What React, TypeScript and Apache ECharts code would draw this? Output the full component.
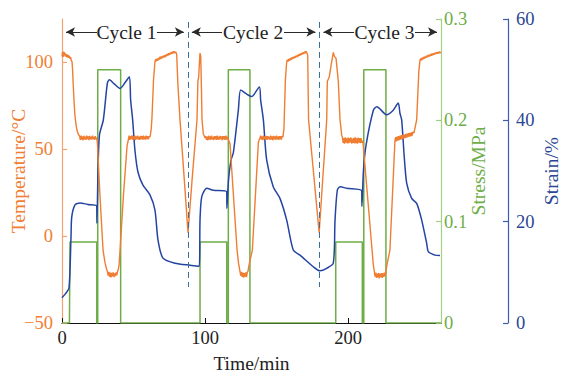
import React, { useEffect, useRef } from 'react';
import * as echarts from 'echarts';

// ---------- data ----------
const timeTicks = [0, 100, 200];
const tempTicks = [-50, 0, 50, 100];
const stressTicks = [0, 0.1, 0.2, 0.3];
const strainTicks = [0, 20, 40, 60];

const cycleNames = ['Cycle 1', 'Cycle 2', 'Cycle 3'];
const cycleBounds = [0, 88, 180, 265];
const cycleTextCenter = [45.1, 133.6, 225.5];
const cycleTextSpan = [[24.5, 66.4], [111.9, 155.2], [204.2, 246.8]];
const cycleDividers = [88, 180];

// Temperature (°C) vs time (min)
const temperature: [number, number][] = [
  [0, 103.5], [0.4, 105.8], [0.8, 103.2], [1.2, 106.3], [1.6, 104.0], [2.0, 105.6], [2.4, 103.4], [2.8, 104.8],
  [3.2, 103.0], [3.6, 104.6], [4.0, 102.8], [4.4, 104.2], [4.8, 102.6], [5.2, 103.8], [5.6, 102.0], [6.0, 103.0],
  [6.5, 101.2], [7.0, 100.5], [7.4, 96], [7.8, 88], [8.4, 78], [9.0, 70], [9.8, 64], [10.6, 60.5], [11.5, 58.5],
  [12.3, 57.6], [12.8, 55.4], [13.3, 57.9], [13.8, 55.6], [14.3, 57.4], [14.8, 55.2], [15.3, 57.8], [15.8, 55.8],
  [16.3, 57.2], [16.8, 55.4], [17.3, 57.9], [17.8, 55.9], [18.3, 57.5], [18.8, 55.3], [19.3, 57.7], [19.8, 55.7],
  [20.3, 57.3], [20.8, 55.6], [21.3, 57.8], [21.8, 55.9], [22.3, 57.1], [22.8, 55.5], [23.3, 57.6], [23.8, 55.8],
  [24.3, 56.8], [24.8, 53], [26.5, 24], [28.7, -8], [30.0, -15], [31.0, -18.5], [31.8, -20.5], [32.3, -22.8],
  [32.8, -20.6], [33.3, -23.4], [33.8, -21.0], [34.3, -23.8], [34.8, -21.2], [35.3, -23.2], [35.8, -20.8],
  [36.3, -23.6], [36.8, -21.4], [37.3, -23.0], [37.8, -20.9], [38.3, -22.6], [38.8, -20.4], [39.3, -19.5],
  [39.9, -16.5], [40.6, -8], [43.0, 24], [45.5, 52], [46.4, 55.5], [46.9, 57.8], [47.4, 55.4], [47.9, 57.6],
  [48.4, 55.8], [48.9, 58.0], [49.4, 55.5], [49.9, 57.4], [50.4, 55.7], [50.9, 57.9], [51.4, 55.3], [51.9, 57.5],
  [52.4, 55.9], [52.9, 57.8], [53.4, 55.6], [53.9, 57.3], [54.4, 55.4], [54.9, 57.7], [55.4, 55.8], [55.9, 57.6],
  [56.4, 55.5], [56.9, 57.9], [57.4, 55.7], [57.9, 57.4], [58.4, 55.6], [58.9, 57.8], [59.4, 55.9], [59.9, 57.5],
  [60.4, 55.7], [60.9, 57.6], [61.5, 57], [62.3, 61], [62.9, 68], [64.0, 90], [65.0, 100.4], [65.5, 101.8],
  [66.0, 100.6], [66.5, 102.2], [67.0, 101.0], [67.5, 102.6], [68.0, 101.6], [68.5, 103.3], [69.0, 102.0],
  [69.5, 103.4], [70.0, 102.4], [70.5, 103.8], [71.0, 102.8], [71.5, 104.1], [72.0, 103.0], [72.5, 104.5],
  [73.0, 103.5], [73.5, 104.9], [74.0, 103.9], [74.5, 105.3], [75.0, 104.3], [75.5, 105.6], [76.0, 104.7],
  [76.5, 106.0], [77.0, 105.0], [77.5, 106.3], [78.0, 105.3], [78.5, 106.4], [79.0, 105.4], [79.6, 106.0],
  [80.2, 104.5], [81.0, 88], [82.5, 67], [85.3, 35], [88.1, 2], [91.2, 35], [94.4, 67], [95.0, 89], [95.6, 92],
  [96.1, 100], [96.5, 105.4], [97.0, 103.6], [97.5, 85], [97.9, 67], [98.8, 59], [100.0, 56.5],
  [100.5, 57.6], [101.0, 55.4], [101.5, 57.3], [102.0, 55.2], [102.5, 57.8], [103.0, 55.6], [103.5, 57.4],
  [104.0, 55.5], [104.5, 57.9], [105.0, 55.7], [105.5, 57.2], [106.0, 55.3], [106.5, 57.6], [107.0, 55.8],
  [107.5, 57.5], [108.0, 55.4], [108.5, 57.8], [109.0, 55.6], [109.5, 57.3], [110.0, 55.5], [110.5, 57.7],
  [111.0, 55.9], [111.5, 57.4], [112.0, 55.2], [112.5, 57.6], [113.0, 55.7], [113.5, 57.5], [114.0, 55.4],
  [114.5, 57.8], [115.0, 55.6], [115.5, 57.2], [116.1, 56], [117.5, 53], [122.4, -8], [123.5, -16],
  [124.5, -20.5], [125.0, -22.8], [125.5, -20.6], [126.0, -23.5], [126.5, -21.0], [127.0, -23.9], [127.5, -21.3],
  [128.0, -23.3], [128.5, -20.8], [129.0, -23.6], [129.5, -21.1], [130.1, -20], [130.8, -16.5], [133.1, -8],
  [137.3, 54], [138.4, 56.5], [138.9, 57.8], [139.4, 55.5], [139.9, 57.5], [140.4, 55.3], [140.9, 57.9],
  [141.4, 55.7], [141.9, 57.4], [142.4, 55.6], [142.9, 57.7], [143.4, 55.4], [143.9, 57.6], [144.4, 55.9],
  [144.9, 57.3], [145.4, 55.5], [145.9, 57.8], [146.4, 55.6], [146.9, 57.5], [147.4, 55.2], [147.9, 57.7],
  [148.4, 55.8], [148.9, 57.4], [149.4, 55.5], [149.9, 57.9], [150.4, 55.7], [150.9, 57.2], [151.4, 55.4],
  [151.9, 57.6], [152.4, 55.8], [152.9, 57.5], [153.4, 55.6], [153.9, 57.7], [154.5, 57], [155.2, 62],
  [156.2, 90], [157.1, 100.4], [157.6, 101.6], [158.1, 100.5], [158.6, 102.0], [159.1, 101.0], [159.6, 102.5],
  [160.1, 101.4], [160.6, 102.8], [161.1, 101.9], [161.6, 103.2], [162.1, 102.2], [162.6, 103.5], [163.1, 102.6],
  [163.6, 103.9], [164.1, 103.0], [164.6, 104.3], [165.1, 103.4], [165.6, 104.7], [166.1, 103.8], [166.6, 105.1],
  [167.1, 104.2], [167.6, 105.5], [168.1, 104.6], [168.6, 105.9], [169.1, 105.0], [169.6, 106.2], [170.1, 105.3],
  [170.6, 106.4], [171.1, 105.8], [171.8, 104.0], [172.4, 67], [179.8, 2], [185.1, 67], [185.5, 89],
  [186.9, 91.8], [188.3, 99], [189.7, 105.8], [190.5, 103.5], [191.6, 102.4], [192.5, 95], [193.2, 89],
  [194.4, 67], [195.6, 58], [196.1, 56.8], [196.6, 53.6], [197.1, 56.5], [197.6, 53.2], [198.1, 56.9],
  [198.6, 53.8], [199.1, 56.3], [199.6, 53.4], [200.1, 56.7], [200.6, 53.5], [201.1, 56.4], [201.6, 53.9],
  [202.1, 56.8], [202.6, 53.3], [203.1, 56.2], [203.6, 53.7], [204.1, 56.6], [204.6, 53.4], [205.1, 56.9],
  [205.6, 53.6], [206.1, 56.3], [206.6, 53.2], [207.1, 56.7], [207.6, 53.8], [208.1, 56.5], [208.6, 53.5],
  [209.1, 56.4], [209.6, 53.7], [210.2, 55], [210.5, 53.6], [216.8, -8], [217.6, -16], [218.4, -20.5],
  [218.9, -23.3], [219.4, -21.0], [219.9, -24.1], [220.4, -21.5], [220.9, -23.8], [221.4, -21.2], [221.9, -24.3],
  [222.4, -21.6], [222.9, -23.6], [223.4, -21.3], [223.9, -24.0], [224.4, -21.4], [224.9, -23.5], [225.4, -21.0],
  [225.9, -23.2], [226.5, -20.5], [227.2, -16.6], [229.3, -8], [232.8, 55], [233.3, 57.0], [233.8, 54.6],
  [234.3, 57.3], [234.8, 55.0], [235.3, 57.6], [235.8, 55.3], [236.3, 57.8], [236.8, 55.6], [237.3, 58.1],
  [237.8, 55.9], [238.3, 58.3], [238.8, 56.2], [239.3, 58.5], [239.8, 56.4], [240.3, 58.8], [240.8, 56.7],
  [241.3, 59.0], [241.8, 57.0], [242.3, 59.3], [242.8, 57.3], [243.3, 59.5], [243.8, 57.5], [244.3, 59.8],
  [244.8, 57.8], [245.3, 60.0], [246.1, 59.4], [248.0, 67], [249.5, 95], [250.3, 101.2], [250.8, 102.3],
  [251.3, 101.1], [251.8, 102.8], [252.3, 101.7], [252.8, 103.1], [253.3, 102.1], [253.8, 103.5], [254.3, 102.5],
  [254.8, 103.9], [255.3, 102.9], [255.8, 104.2], [256.3, 103.3], [256.8, 104.5], [257.3, 103.6], [257.8, 104.8],
  [258.3, 103.9], [258.8, 105.1], [259.3, 104.2], [259.8, 105.3], [260.3, 104.5], [260.8, 105.6], [261.3, 104.8],
  [261.8, 105.8], [262.3, 105.0], [262.8, 106.0], [263.3, 105.2], [263.8, 106.2], [264.3, 105.5], [265, 106],
];

// Stress (MPa) vs time (min)
const stress: [number, number][] = [
  [0, 0], [5.2, 0], [5.6, 0.08], [24.3, 0.08], [24.3, 0], [25.0, 0], [25.0, 0.25], [41.0, 0.25], [41.0, 0],
  [96.5, 0], [96.5, 0.08], [115.2, 0.08], [115.2, 0], [116.3, 0], [116.3, 0.25], [131.4, 0.25], [131.4, 0],
  [191.4, 0], [191.4, 0.08], [210.0, 0.08], [210.0, 0], [211.0, 0], [211.0, 0.25], [226.5, 0.25], [226.5, 0],
  [265, 0],
];

// Strain (%) vs time (min)
const strain: [number, number][] = [
  [0, 5.0], [2.5, 5.8], [4.9, 6.9], [6.3, 17.0], [6.8, 20.9], [9.1, 23.3], [12.6, 23.7], [18, 23.4], [24.3, 23.1],
  [24.4, 19.7], [25.2, 30.2], [26.2, 37.1], [28.9, 40.1], [31.7, 47.3], [33.1, 48.0], [36.5, 47.2], [40.6, 46.3],
  [44.0, 47.4], [47.1, 48.6], [48.0, 44.0], [49.4, 40.1], [51.0, 34.1], [53.1, 29.8], [56.6, 27.2], [61.5, 25.3],
  [65.0, 22.3], [67.1, 16.4], [70.6, 12.8], [79.0, 11.8], [89.5, 11.4], [96.0, 11.2],
  [96.5, 20.3], [97.7, 24.9], [101.2, 26.6], [105.8, 26.2], [115.2, 25.9], [115.3, 22.6], [116.4, 28.2],
  [118.2, 32.2], [119.8, 33.6], [123.3, 42.0], [124.9, 46.0], [128.5, 45.3], [132.6, 44.7], [138.0, 46.6],
  [138.9, 44.0], [140.8, 40.1], [143.1, 32.2], [147.7, 26.9], [152.4, 24.6], [157.1, 20.3], [161.7, 14.4],
  [166.4, 13.4], [175.7, 11.1], [180.4, 10.3], [185.1, 10.8], [189.7, 11.8],
  [190.9, 20.3], [192.5, 26.2], [194.4, 26.9], [199.1, 26.6], [209.6, 26.1], [209.7, 23.0], [210.8, 30.2],
  [212.6, 35.1], [217.7, 42.0], [220.1, 42.7], [227.0, 41.1], [231.6, 42.0], [235.1, 43.4], [236.3, 41.4],
  [237.5, 40.1], [239.1, 33.6], [241.0, 27.6], [244.5, 24.6], [248.0, 23.6], [251.5, 20.3], [255.0, 15.7],
  [256.1, 14.1], [260.8, 13.4], [264.3, 13.3],
];

// ---------- styles ----------
const SERIF = "'Liberation Serif', 'Times New Roman', serif";
const ORANGE = '#EF7E33';
const ORANGE_AXIS = '#F3A26E';
const GREEN = '#6EAD47';
const GREEN_AXIS = '#A3CF86';
const BLUE = '#2444A2';
const BLUE_AXIS = '#3E5CB0';
const DASH = '#3A6E9C';

const minus = (v: number) => String(v).replace('-', '\u2212');

function buildOption(): echarts.EChartsCoreOption {
  const arrowY = 117.5;
  const arrowHalf = 2.8;
  const arrowLine = { color: '#2a2a2a', width: 1, type: 'solid' as const };
  const arrowItems: any[] = [];
  cycleNames.forEach((_, i) => {
    arrowItems.push([
      { coord: [cycleBounds[i] + arrowHalf, arrowY], symbol: 'arrow', symbolSize: [7, 9], lineStyle: arrowLine },
      { coord: [cycleTextSpan[i][0], arrowY], symbol: 'none' },
    ]);
    arrowItems.push([
      { coord: [cycleTextSpan[i][1], arrowY], symbol: 'none', lineStyle: arrowLine },
      { coord: [cycleBounds[i + 1] - arrowHalf, arrowY], symbol: 'arrow', symbolSize: [7, 9] },
    ]);
  });
  const dividerItems = cycleDividers.map((t) => [
    { coord: [t, 123.3], symbol: 'none', lineStyle: { color: DASH, width: 1, type: [6, 4] } },
    { coord: [t, -29.3], symbol: 'none' },
  ]);

  const yAxisCommon = (color: string, axisColor: string, ticks: number[], margin: number) => ({
    type: 'value',
    nameLocation: 'middle',
    nameMoveOverlap: false,
    nameTextStyle: { fontFamily: SERIF, fontSize: 19.5, color },
    axisLine: { show: true, lineStyle: { color: axisColor, width: 1.2 } },
    axisTick: { show: true, inside: true, length: 5, lineStyle: { color: axisColor, width: 1.2 }, customValues: ticks },
    axisLabel: { fontFamily: SERIF, fontSize: 18.5, color, customValues: ticks, formatter: minus, margin },
    splitLine: { show: false },
  });

  return {
    animation: false,
    backgroundColor: '#ffffff',
    grid: { left: 62, right: 120, top: 19, bottom: 50, outerBoundsMode: 'none', containLabel: false },
    xAxis: {
      type: 'value',
      min: 0,
      max: 265,
      interval: 100,
      name: 'Time/min',
      nameLocation: 'middle',
      nameMoveOverlap: false,
      nameGap: 30,
      nameTextStyle: { fontFamily: SERIF, fontSize: 19.5, color: '#222' },
      axisLine: { show: true, onZero: false, lineStyle: { color: '#111', width: 1.2 } },
      axisTick: { show: true, inside: true, length: 5, lineStyle: { color: '#111' }, customValues: timeTicks },
      axisLabel: { fontFamily: SERIF, fontSize: 18.5, color: '#222', margin: 5, customValues: timeTicks },
      splitLine: { show: false },
    },
    yAxis: [
      {
        ...yAxisCommon(ORANGE, ORANGE_AXIS, tempTicks, 9),
        position: 'left',
        min: -50,
        max: 125,
        interval: 50,
        name: 'Temperature/°C',
        nameGap: 34,
      },
      {
        ...yAxisCommon(GREEN, GREEN_AXIS, stressTicks, 3),
        position: 'right',
        min: 0,
        max: 0.3,
        interval: 0.1,
        name: 'Stress/MPa',
        nameGap: 27,
      },
      {
        ...yAxisCommon('#2B4793', BLUE_AXIS, strainTicks, 8),
        position: 'right',
        offset: 67,
        min: 0,
        max: 60,
        interval: 20,
        name: 'Strain/%',
        nameGap: 33,
      },
    ],
    series: [
      {
        name: 'Stress',
        type: 'line',
        yAxisIndex: 1,
        data: stress,
        showSymbol: false,
        symbol: 'none',
        lineStyle: { color: GREEN, width: 1.5 },
        z: 2,
      },
      {
        name: 'Strain',
        type: 'line',
        yAxisIndex: 2,
        data: strain,
        showSymbol: false,
        symbol: 'none',
        smooth: 0.25,
        lineStyle: { color: BLUE, width: 1.5 },
        z: 3,
      },
      {
        name: 'Temperature',
        type: 'line',
        yAxisIndex: 0,
        data: temperature,
        showSymbol: false,
        symbol: 'none',
        lineStyle: { color: ORANGE, width: 1.4 },
        z: 4,
        markLine: {
          silent: true,
          animation: false,
          symbol: ['none', 'none'],
          label: { show: false },
          emphasis: { disabled: true },
          data: [...dividerItems, ...arrowItems],
        },
        markPoint: {
          silent: true,
          animation: false,
          symbol: 'circle',
          symbolSize: 1,
          itemStyle: { color: 'rgba(0,0,0,0)' },
          label: {
            show: true,
            position: 'inside',
            formatter: '{b}',
            color: '#222',
            fontFamily: SERIF,
            fontSize: 19.5,
          },
          data: cycleNames.map((n, i) => ({ name: n, coord: [cycleTextCenter[i], arrowY] })),
        },
      },
    ],
  };
}

export default function App() {
  const ref = useRef<HTMLDivElement>(null);
  useEffect(() => {
    if (!ref.current) return;
    const chart = echarts.init(ref.current, undefined, { renderer: 'svg' });
    chart.setOption(buildOption());
    return () => chart.dispose();
  }, []);
  return (
    <div
      ref={ref}
      style={{ position: 'fixed', left: 0, top: 0, width: 561, height: 373, background: '#fff' }}
    />
  );
}
